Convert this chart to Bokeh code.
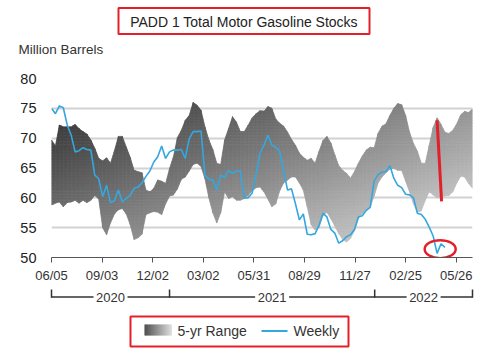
import numpy as np
from bokeh.plotting import figure
from bokeh.models import Range1d, FixedTicker, DatetimeTickFormatter
from bokeh.layouts import column
from bokeh.embed import file_html
from bokeh.resources import INLINE
from bokeh.core.properties import value

# ---------------- data ----------------
title_text = "PADD 1 Total Motor Gasoline Stocks"
unit_text = "Million Barrels"
start_date = "2020-06-05"          # first week (weekly steps of 7 days)

weekly = [75.0, 74.1, 75.4, 75.1, 72.2, 70.5, 67.7, 67.9, 68.4, 68.1,
          68.0, 63.8, 63.2, 60.2, 62.1, 59.2, 59.5, 61.3, 59.3, 59.9,
          60.4, 61.6, 61.8, 62.5, 63.6, 64.5, 66.0, 66.9, 68.7, 66.6,
          67.7, 68.0, 68.0, 68.1, 66.6, 69.9, 71.1, 71.1, 71.2, 63.8,
          63.1, 63.0, 61.3, 63.8, 63.4, 64.6, 64.1, 64.5, 64.5, 60.0,
          60.0, 60.8, 64.0, 67.5, 68.8, 70.5, 68.8, 68.5, 67.8, 64.5,
          61.3, 61.5, 59.0, 56.3, 57.3, 53.9, 53.8, 54.0, 55.4, 57.4,
          56.8, 54.7, 54.1, 52.4, 52.8, 53.5, 53.8, 54.7, 56.8, 57.0,
          57.9, 58.4, 62.8, 63.9, 64.3, 64.4, 65.4, 63.3, 62.1, 61.7,
          60.6, 60.5, 60.0, 57.4, 57.2, 56.4, 55.1, 53.6, 50.7, 52.3,
          51.7]

range_upper = [69.7, 68.7, 72.2, 71.9, 71.9, 71.9, 72.3, 71.6, 71.1, 70.7,
               69.7, 68.3, 66.6, 66.2, 66.7, 65.8, 67.9, 70.3, 70.3, 68.5,
               66.8, 64.6, 64.4, 64.2, 61.3, 61.0, 61.6, 63.0, 62.8, 62.4,
               64.9, 66.9, 70.1, 71.3, 73.0, 73.8, 76.0, 75.5, 74.7, 71.9,
               69.7, 68.1, 65.8, 65.6, 69.7, 71.6, 73.6, 72.7, 71.1, 71.1,
               72.2, 73.4, 74.1, 74.6, 74.5, 75.3, 75.0, 73.2, 72.5, 72.0,
               71.0, 69.8, 68.8, 67.5, 66.8, 66.3, 66.6, 65.8, 67.8, 69.6,
               70.3, 69.2, 67.2, 65.4, 64.6, 64.1, 63.3, 64.4, 65.8, 67.0,
               68.0, 68.5, 68.4, 70.8, 72.0, 72.4, 73.8, 75.0, 75.8, 75.6,
               73.8, 71.0, 69.1, 67.8, 65.8, 65.8, 68.8, 71.8, 73.4, 72.3,
               71.0, 70.8, 71.3, 72.4, 73.9, 74.5, 74.3, 74.9]

range_lower = [58.8, 59.1, 59.3, 58.5, 59.2, 59.3, 59.6, 59.1, 59.6, 59.2,
               59.6, 60.4, 59.8, 55.0, 53.8, 55.8, 57.3, 58.0, 58.2, 57.3,
               55.5, 53.0, 53.3, 53.9, 57.2, 57.5, 57.7, 57.6, 57.2, 59.0,
               60.3, 60.5, 61.5, 63.1, 63.5, 64.5, 65.6, 65.8, 65.3, 63.2,
               60.0, 57.5, 55.8, 57.5, 61.0, 59.9, 60.2, 59.6, 59.6, 59.9,
               60.4, 61.2, 61.7, 61.8, 61.0, 59.8, 58.5, 59.0, 61.2, 62.5,
               63.0, 63.5, 63.5, 62.5, 61.3, 58.5, 55.5, 54.6, 55.0, 57.0,
               57.6, 56.5, 55.3, 54.0, 53.0, 52.6, 53.2, 54.5, 56.5, 57.4,
               57.8, 58.5, 60.3, 62.5, 63.5, 64.2, 64.8, 65.0, 64.6, 64.6,
               62.8, 61.0, 59.0, 57.6, 57.8, 59.6, 61.0, 60.5, 60.0, 60.0,
               60.3, 60.4, 61.0, 62.5, 63.6, 63.5, 62.4, 61.6]

x_tick_dates = ["2020-06-05", "2020-09-03", "2020-12-02", "2021-03-02",
                "2021-05-31", "2021-08-29", "2021-11-27", "2022-02-25",
                "2022-05-26"]
y_ticks = [50, 55, 60, 65, 70, 75, 80]
year_labels = ["2020", "2021", "2022"]
year_starts = ["2021-01-01", "2022-01-01"]
legend_labels = ["5-yr Range", "Weekly"]

# annotations (red marks of the reference)
mark_line = (("2022-04-22", 73.0), ("2022-04-30", 59.4))
mark_circle = ("2022-04-27T12:00", 51.4)

# ---------------- helpers ----------------
DAY = 86400000.0


def ms(d):
    return float(np.datetime64(d, "ms").astype("int64"))


t0 = ms(start_date)
band_x = [t0 + 7 * DAY * i for i in range(len(range_upper))]
week_x = [t0 + 7 * DAY * i for i in range(len(weekly))]

FONT = "Liberation Sans"
RED = "#e3202a"
BLUE = "#33a7de"


def gray(v):
    v = int(max(35, min(228, round(v))))
    return "#%02x%02x%02x" % (v, v, v)


def band_shade(w, y):
    return gray(32 + 0.925 * w + 3.4 * (80 - y))


# gradient band: cut into cells (week segment x horizontal strip)
cell_xs, cell_ys, cell_col = [], [], []
dy = 0.5
levels = np.arange(50.0, 80.0, dy)
for i in range(len(band_x) - 1):
    x0, x1 = band_x[i], band_x[i + 1]
    L0, L1 = range_lower[i], range_lower[i + 1]
    U0, U1 = range_upper[i], range_upper[i + 1]
    lo_min, up_max = min(L0, L1), max(U0, U1)
    for a in levels:
        b = a + dy
        if b <= lo_min or a >= up_max:
            continue
        ts = {0.0, 1.0}
        for p0_, p1_ in ((L0, L1), (U0, U1)):
            for lev in (a, b):
                if (p0_ - lev) * (p1_ - lev) < 0:
                    ts.add((lev - p0_) / (p1_ - p0_))
        ts = sorted(ts)
        tops, bots = [], []
        for t in ts:
            L = L0 + (L1 - L0) * t
            U = U0 + (U1 - U0) * t
            tops.append(min(U, b))
            bots.append(max(L, a))
        idx = [k for k in range(len(ts)) if tops[k] - bots[k] > 1e-9]
        if not idx:
            continue
        k0 = max(idx[0] - 1, 0)
        k1 = min(idx[-1] + 1, len(ts) - 1)
        sel = list(range(k0, k1 + 1))
        px = [x0 + (x1 - x0) * ts[k] for k in sel]
        pt = [max(tops[k], bots[k]) for k in sel]
        pb = [bots[k] for k in sel]
        cell_xs.append(px + px[::-1])
        cell_ys.append(pt + pb[::-1])
        tm = 0.5 * (ts[sel[0]] + ts[sel[-1]])
        cell_col.append(band_shade(i + tm, a + dy / 2))

# ---------------- top strip: title + unit ----------------
p0 = figure(width=486, height=68, x_range=Range1d(0, 486), y_range=Range1d(68, 0),
            output_backend="svg", toolbar_location=None,
            min_border_left=0, min_border_right=0, min_border_top=0, min_border_bottom=0,
            x_axis_location=None, y_axis_location=None)
p0.frame_align = False
p0.outline_line_color = None
p0.grid.visible = False
p0.quad(left=[118], right=[369], top=[7.5], bottom=[33.5],
        fill_color=None, line_color=RED, line_width=2)
p0.text(x=[243.5], y=[21], text=[title_text], text_font=value(FONT),
        text_font_size="14px", text_color="#222222",
        text_align="center", text_baseline="middle")
p0.text(x=[18], y=[49], text=[unit_text], text_font=value(FONT),
        text_font_size="13.5px", text_color="#333333",
        text_align="left", text_baseline="middle")

# ---------------- main figure ----------------
p = figure(width=486, height=217, x_axis_type="datetime",
           x_range=Range1d(band_x[0], band_x[-1]), y_range=Range1d(50, 80),
           output_backend="svg", toolbar_location=None,
           min_border_left=51, min_border_right=14,
           min_border_top=10, min_border_bottom=28)
p.frame_align = False
p.outline_line_color = None
p.xgrid.visible = False
p.ygrid.grid_line_color = "#d2d2d2"
p.ygrid.grid_line_width = 2
p.ygrid.ticker = FixedTicker(ticks=y_ticks)

p.yaxis.ticker = FixedTicker(ticks=y_ticks)
p.yaxis.axis_line_color = None
p.yaxis.major_tick_line_color = None
p.yaxis.minor_tick_line_color = None
p.yaxis.major_label_standoff = 9
p.yaxis.major_label_text_font = FONT
p.yaxis.major_label_text_font_size = "14.5px"
p.yaxis.major_label_text_color = "#222222"

p.xaxis.ticker = FixedTicker(ticks=[ms(d) for d in x_tick_dates])
p.xaxis.formatter = DatetimeTickFormatter(days="%m/%d", months="%m/%d", years="%m/%d")
p.xaxis.axis_line_color = "#555555"
p.xaxis.axis_line_width = 1.2
p.xaxis.major_tick_line_color = "#555555"
p.xaxis.major_tick_in = 0
p.xaxis.major_tick_out = 5
p.xaxis.minor_tick_line_color = None
p.xaxis.major_label_standoff = 5
p.xaxis.major_label_text_font = FONT
p.xaxis.major_label_text_font_size = "13px"
p.xaxis.major_label_text_color = "#333333"

p.patches(xs=cell_xs, ys=cell_ys, fill_color=cell_col, line_color=cell_col, line_width=0.7)
p.line(week_x, weekly, line_color=BLUE, line_width=1.6)

p.segment(x0=[ms(mark_line[0][0])], y0=[mark_line[0][1]],
          x1=[ms(mark_line[1][0])], y1=[mark_line[1][1]],
          line_color=RED, line_width=3)
p.ellipse(x=[ms(mark_circle[0])], y=[mark_circle[1]], width=31, height=18,
          width_units="screen", height_units="screen",
          fill_color=None, line_color=RED, line_width=2.5)

# ---------------- bottom strip: year brackets + legend ----------------
span = band_x[-1] - band_x[0]
px_per_ms = 421.0 / span
pad = 5.0 / px_per_ms
p2 = figure(width=486, height=68, x_range=Range1d(band_x[0] - pad, band_x[-1] + pad),
            y_range=Range1d(68, 0), output_backend="svg", toolbar_location=None,
            min_border_left=46, min_border_right=9, min_border_top=0, min_border_bottom=0,
            x_axis_location=None, y_axis_location=None)
p2.frame_align = False
p2.outline_line_color = None
p2.grid.visible = False
p2.extra_x_ranges = {"px": Range1d(46, 477)}

bounds = [band_x[0]] + [ms(d) for d in year_starts] + [band_x[-1]]
centers = [(bounds[k] + bounds[k + 1]) / 2 for k in range(len(year_labels))]
gap = 17.0 / px_per_ms
hx0, hx1 = [], []
for k in range(len(year_labels)):
    hx0 += [bounds[k], centers[k] + gap]
    hx1 += [centers[k] - gap, bounds[k + 1]]
p2.segment(x0=hx0, x1=hx1, y0=[11.5] * len(hx0), y1=[11.5] * len(hx0),
           line_color="#333333", line_width=1.5)
p2.segment(x0=bounds, x1=bounds, y0=[4] * len(bounds), y1=[12.2] * len(bounds),
           line_color="#333333", line_width=1.5)
p2.text(x=centers, y=[11.5] * len(centers), text=year_labels,
        text_font=value(FONT), text_font_size="13px", text_color="#333333",
        text_align="center", text_baseline="middle")

# legend
p2.quad(left=[130], right=[348], top=[31], bottom=[61], x_range_name="px",
        fill_color=None, line_color=RED, line_width=2)
sw_n = 27
sw_left = [144 + k for k in range(sw_n)]
sw_right = [145.3 + k for k in range(sw_n)]
sw_col = [gray(60 + 155 * k / (sw_n - 1)) for k in range(sw_n)]
p2.quad(left=sw_left, right=sw_right, top=[39] * sw_n, bottom=[50] * sw_n,
        x_range_name="px", fill_color=sw_col, line_color=None)
p2.segment(x0=[261], x1=[287], y0=[45.5], y1=[45.5], x_range_name="px",
           line_color=BLUE, line_width=2.2)
p2.text(x=[177, 293], y=[45.5, 45.5], text=legend_labels, x_range_name="px",
        text_font=value(FONT), text_font_size="14px", text_color="#333333",
        text_align="left", text_baseline="middle")

layout = column(p0, p, p2, spacing=0)
open("out.html", "w").write(file_html(layout, INLINE))
